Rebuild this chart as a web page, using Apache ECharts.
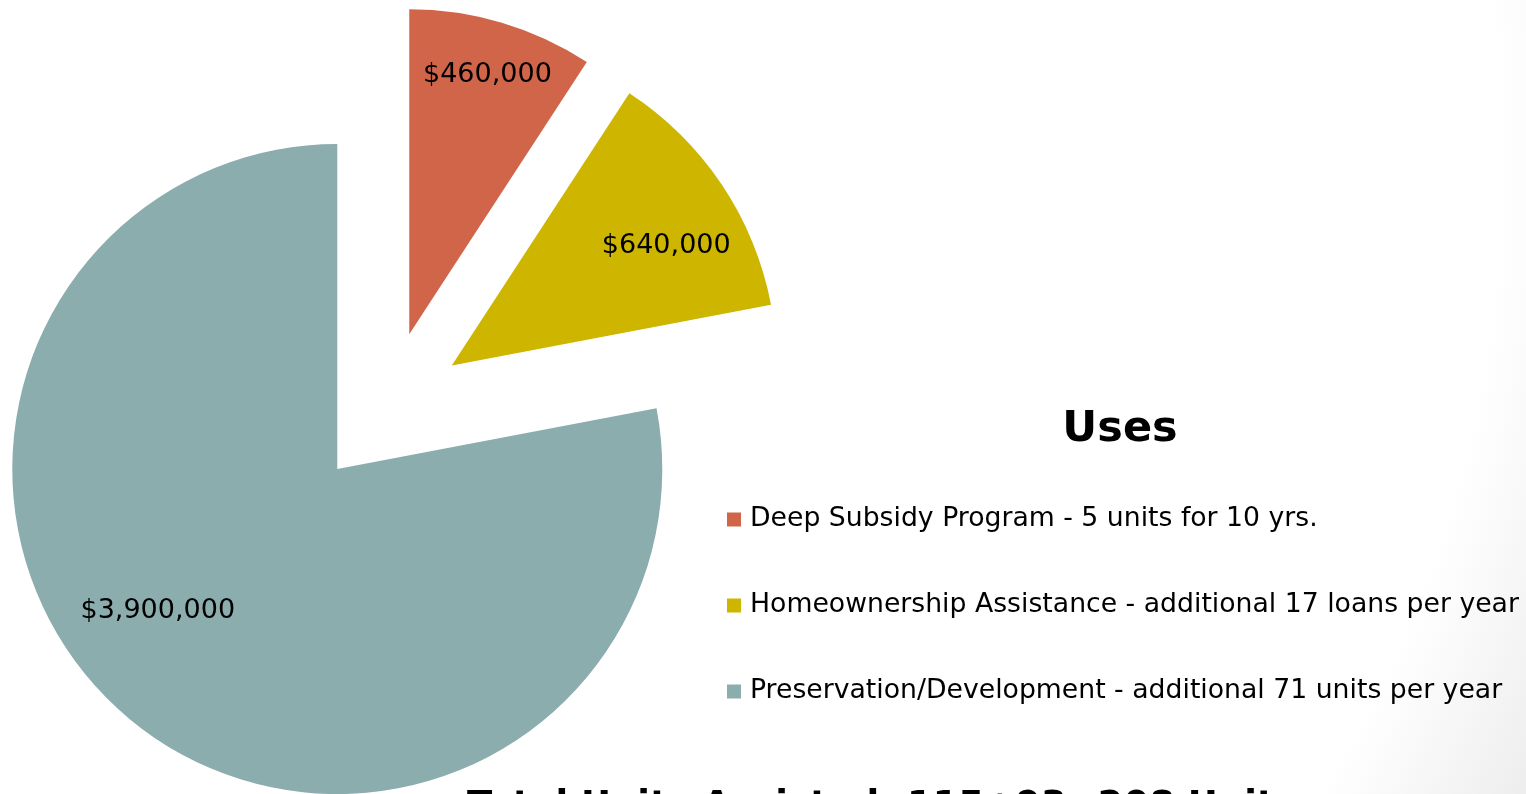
<!DOCTYPE html>
<html>
<head>
<meta charset="utf-8">
<script src="https://cdn.jsdelivr.net/npm/echarts@6/dist/echarts.min.js"></script>
<style>
  html, body { margin: 0; padding: 0; background: #fff; }
  #chart { width: 1526px; height: 794px; }
</style>
</head>
<body>
<div id="chart"></div>
<script>
const categories = [
  'Deep Subsidy Program - 5 units for 10 yrs.',
  'Homeownership Assistance - additional 17 loans per year',
  'Preservation/Development - additional 71 units per year'
]
const values = [460000, 640000, 3900000]
const colors = ['#D0654A', '#CDB500', '#8BADAE']
const titleText = 'Uses'
const footerText = 'Total Units Assisted: 115+93=208 Units'

// where each inside label sits relative to ECharts' default inside spot
const labelShift = [[31, -101], [77, -27], [-74, 14]]

const font = 'DejaVu Sans, Verdana, sans-serif'

const chart = echarts.init(document.getElementById('chart'))

const option = {
  animation: false,
  // faint grey only in the bottom-right corner
  backgroundColor: new echarts.graphic.RadialGradient(0.2, 0.2, 1.75, [
    { offset: 0, color: '#ffffff' },
    { offset: 0.86, color: '#ffffff' },
    { offset: 1, color: '#ececec' }
  ]),
  title: [
    {
      text: titleText,
      left: 1115,
      top: 403,
      textAlign: 'center',
      textStyle: { fontFamily: font, fontSize: 43, fontWeight: 'bold', color: '#000' }
    },
    {
      text: footerText,
      left: 462,
      top: 784,
      textStyle: { fontFamily: font, fontSize: 37, fontWeight: 'bold', color: '#000' }
    }
  ],
  legend: {
    orient: 'vertical',
    left: 722,
    top: 501,
    itemWidth: 14,
    itemHeight: 14,
    itemGap: 59,
    icon: 'rect',
    selectedMode: false,
    textStyle: {
      fontFamily: font,
      fontSize: 26.7,
      lineHeight: 26,
      color: '#000',
      padding: [0, 0, 0, 4]
    },
    data: categories
  },
  series: [
    {
      type: 'pie',
      center: [387, 409],
      radius: 325,
      startAngle: 90,
      clockwise: true,
      selectedMode: 'multiple',
      selectedOffset: 78,
      avoidLabelOverlap: false,
      emphasis: { disabled: true },
      itemStyle: { borderWidth: 0 },
      label: {
        show: true,
        position: 'inside',
        fontFamily: font,
        fontSize: 27,
        color: '#000',
        formatter: p => '$' + p.value.toLocaleString('en-US')
      },
      labelLine: { show: false },
      labelLayout: p => ({ dx: labelShift[p.dataIndex][0], dy: labelShift[p.dataIndex][1] }),
      data: categories.map((name, i) => ({
        name,
        value: values[i],
        selected: true,
        itemStyle: { color: colors[i] }
      }))
    }
  ]
}

chart.setOption(option)
</script>
</body>
</html>
